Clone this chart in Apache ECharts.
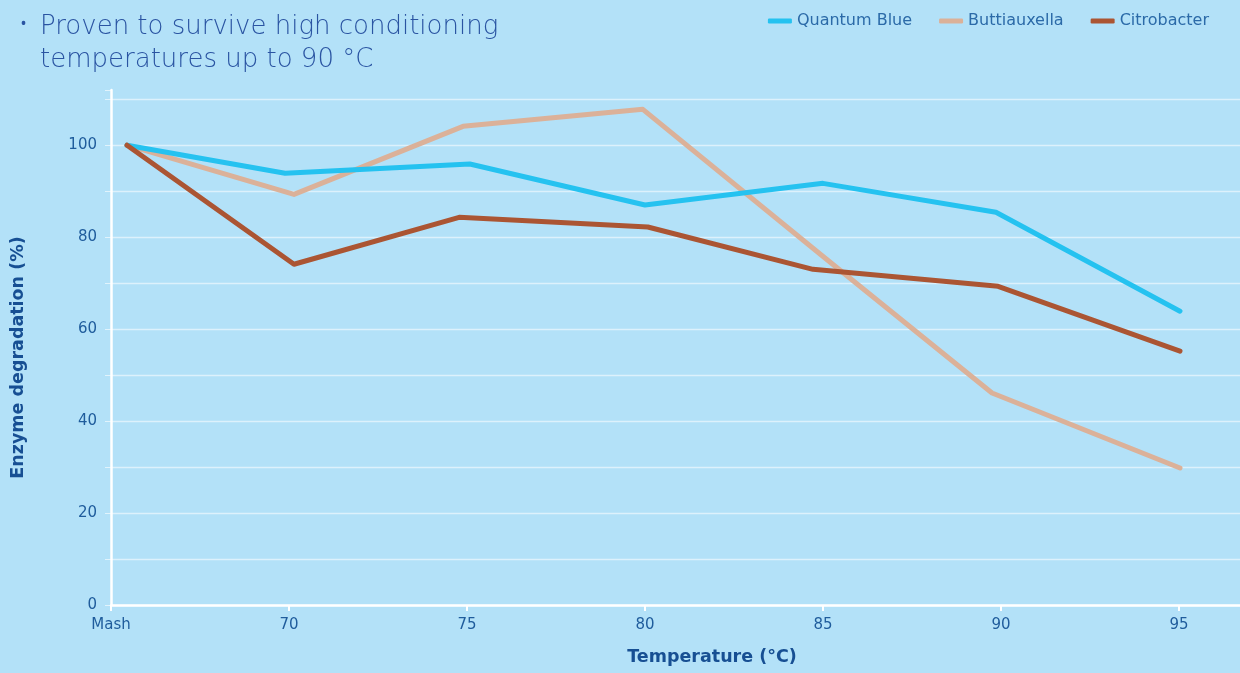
<!DOCTYPE html>
<html><head><meta charset="utf-8">
<script src="https://cdn.jsdelivr.net/npm/echarts@6/dist/echarts.min.js"></script>
<style>html,body{margin:0;padding:0;background:#b3e1f8;}#c{width:1240px;height:673px;}</style>
</head><body><div id="c"></div>
<script>
const seriesNames = ['Quantum Blue', 'Buttiauxella', 'Citrobacter'];
const xTickValues = [65, 70, 75, 80, 85, 90, 95];
const xTickLabels = ['Mash', '70', '75', '80', '85', '90', '95'];
const quantumX = [65.45, 69.89, 75.08, 80.0, 85.0, 89.86, 95.03];
const quantumY = [100, 93.9, 95.9, 87.0, 91.7, 85.4, 63.9];
const buttiX = [65.45, 70.14, 74.89, 79.94, 84.97, 89.75, 95.03];
const buttiY = [100, 89.3, 104.1, 107.8, 76.0, 46.1, 29.8];
const citroX = [65.45, 70.14, 74.78, 80.08, 84.72, 89.92, 95.03];
const citroY = [100, 74.1, 84.3, 82.2, 73.0, 69.3, 55.2];
const colors = ['#25c2f0', '#dbb199', '#ab5533'];

const zip = (xs, ys) => xs.map((x, i) => [x, ys[i]]);
const textBlue = '#1f5c9c';
const font = '"DejaVu Sans", "Open Sans", sans-serif';

const chart = echarts.init(document.getElementById('c'), null, {renderer: 'canvas'});
const splitColors = [];
for (let i = 0; i < 12; i++) splitColors.push('rgba(255,255,255,0.55)');
splitColors.push('rgba(0,0,0,0)');

chart.setOption({
  backgroundColor: '#b3e1f8',
  animation: false,
  color: colors,
  title: [
    {text: '•', left: 14, top: 9, textStyle: {fontFamily: font, fontSize: 24, fontWeight: 200, color: '#2a54a2'}},
    {text: 'Proven to survive high conditioning\ntemperatures up to 90 °C', left: 35, top: 6,
     textStyle: {fontFamily: font, fontSize: 26, fontWeight: 200, color: '#2a54a2', lineHeight: 33}}
  ],
  legend: {
    data: seriesNames,
    right: 26, top: 8,
    icon: 'roundRect', itemWidth: 24, itemHeight: 5, itemGap: 27,
    textStyle: {fontFamily: font, fontSize: 16, fontWeight: 'normal', color: '#2b6aa8'}
  },
  grid: {left: 111, right: -3, top: 90, bottom: 68, containLabel: false, outerBoundsMode: 'none'},
  xAxis: {
    type: 'value', min: 65, max: 96.8, interval: 5,
    name: 'Temperature (°C)', nameLocation: 'middle', nameGap: 43,
    nameTextStyle: {fontFamily: font, fontSize: 17.5, fontWeight: 'bold', color: '#174f93', padding: [0, 0, 0, 70]},
    axisLine: {show: true, lineStyle: {color: '#ffffff', width: 2.5}},
    axisTick: {show: true, length: 6, lineStyle: {color: '#ffffff', width: 2}},
    axisLabel: {fontFamily: font, fontSize: 15, color: textBlue, margin: 13,
      formatter: v => { const i = xTickValues.indexOf(v); return i >= 0 ? xTickLabels[i] : ''; }},
    splitLine: {show: false}
  },
  yAxis: {
    type: 'value', min: 0, max: 112, interval: 10,
    name: 'Enzyme degradation (%)', nameLocation: 'middle', nameGap: 84,
    nameTextStyle: {fontFamily: font, fontSize: 17.5, fontWeight: 'bold', color: '#174f93', padding: [0, 20, 0, 0]},
    axisLine: {show: true, lineStyle: {color: '#ffffff', width: 2.5}},
    axisTick: {show: true, length: 6, lineStyle: {color: 'rgba(255,255,255,0.6)', width: 1}},
    axisLabel: {fontFamily: font, fontSize: 15, color: textBlue, margin: 14,
      formatter: v => (v % 20 === 0 && v <= 100 ? String(v) : '')},
    splitLine: {show: true, lineStyle: {color: splitColors, width: 1.3}}
  },
  series: [
    {name: seriesNames[0], type: 'line', data: zip(quantumX, quantumY), showSymbol: false, symbol: 'none',
     lineStyle: {width: 5, color: colors[0], cap: 'round', join: 'round'}, z: 3},
    {name: seriesNames[1], type: 'line', data: zip(buttiX, buttiY), showSymbol: false, symbol: 'none',
     lineStyle: {width: 5, color: colors[1], cap: 'round', join: 'round'}, z: 2},
    {name: seriesNames[2], type: 'line', data: zip(citroX, citroY), showSymbol: false, symbol: 'none',
     lineStyle: {width: 5, color: colors[2], cap: 'round', join: 'round'}, z: 4}
  ]
});
</script>
</body></html>
